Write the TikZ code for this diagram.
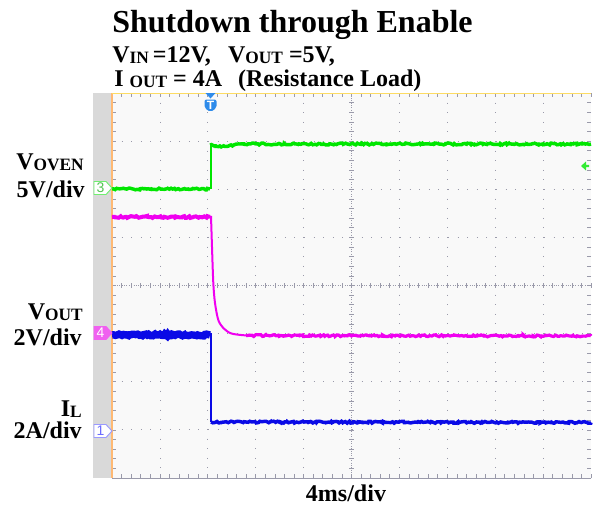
\documentclass[tikz,border=0pt]{standalone}
\usepackage{fontspec}
\setmainfont{Liberation Serif}
\newfontfamily\mksans{Liberation Sans}
\usetikzlibrary{decorations.pathmorphing}
\definecolor{cgreen}{HTML}{00E600}
\definecolor{cmag}{HTML}{F000F0}
\definecolor{cblue}{HTML}{0A0AE6}
\definecolor{plotbg}{HTML}{F9F9F9}
\definecolor{stripc}{HTML}{D9D9D9}
\definecolor{gridc}{HTML}{9A9AAA}
\definecolor{trig}{HTML}{2E8BEA}
\definecolor{mk3}{HTML}{70EE70}
\definecolor{mk4}{HTML}{F060F0}
\definecolor{mk1}{HTML}{9A9AFF}
\newcommand\lowcaps[1]{{\fontsize{13}{13}\selectfont\raisebox{-0.8pt}{#1}}}
\begin{document}
\begin{tikzpicture}[x=0.75pt,y=-0.75pt,
  lbl/.style={font=\bfseries\fontsize{18}{18}\selectfont, inner sep=0pt, anchor=base east},
  hdr/.style={font=\bfseries\fontsize{18}{18}\selectfont, inner sep=0pt, anchor=base west},
  noisy/.style={decorate,decoration={random steps,segment length=1.2pt,amplitude=0.7pt}},
  gdot/.style={gridc, line width=0.6pt, dash pattern=on 0.6pt off 6.6pt},
  cdot/.style={gridc, line width=0.6pt, dash pattern=on 0.6pt off 1.2pt},
  tickm/.style={gridc, line width=0.5pt},
  mknum/.style={font=\mksans\fontsize{10.5}{10.5}\selectfont, inner sep=0pt}
]
\pgfmathsetseed{7}
\useasboundingbox[fill=white] (0,0) rectangle (593,507);

% strip and plot background
\fill[stripc] (93,93) rectangle (112,478);
\fill[plotbg] (112,93) rectangle (591,478);

% grid
\foreach \k in {1,2,3,4,6,7,8,9} \draw[gdot] ({112+47.9*\k},93) -- ({112+47.9*\k},478);
\foreach \k in {1,2,3,5,6,7} \draw[gdot] (112,{93+48.125*\k}) -- (591,{93+48.125*\k});
\draw[cdot] (351.5,93) -- (351.5,478);
\draw[cdot] (112,285.5) -- (591,285.5);
\foreach \i in {0,...,50} {
  \pgfmathsetmacro\xx{112+9.58*\i}
  \draw[tickm] (\xx,93) -- (\xx,97);
  \draw[tickm] (\xx,478) -- (\xx,474);
  \draw[tickm] (\xx,283) -- (\xx,288);
}
\foreach \j in {0,...,40} {
  \pgfmathsetmacro\yy{93+9.625*\j}
  \draw[tickm] (112,\yy) -- (116,\yy);
  \draw[tickm] (591,\yy) -- (587,\yy);
  \draw[tickm] (349,\yy) -- (354,\yy);
}
\draw[gridc, line width=0.6pt] (112,478) -- (591,478);
\draw[orange!55, line width=0.8pt] (112,93) -- (112,478);
\draw[yellow!60!orange!60, line width=0.6pt] (112,93) -- (591,93);

% blue trace
\draw[cblue, line width=5.5pt, noisy] (112,335) -- (210,335);
\draw[cblue, line width=1.2pt] (211,333) -- (211,422);
\draw[cblue, line width=2.6pt, noisy] (211,422) -- (591,422.5);

% magenta trace
\draw[cmag, line width=3pt, noisy] (112,217) -- (210,217);
\draw[cmag, line width=1.5pt] plot[smooth] coordinates {(211,216) (212,247) (213.3,283) (215,303) (218.3,320) (223.3,328) (230,333) (236.7,334.5) (246.7,335.5)};
\draw[cmag, line width=2.4pt, noisy] (246,335.5) -- (591,336);

% green trace
\draw[cgreen, line width=2.6pt, noisy] (112,189) -- (210,189);
\draw[cgreen, line width=1.5pt] (210.5,189) -- (210.5,144);
\draw[cgreen, line width=2.6pt, noisy] (210,145) -- (225,146.5) -- (240,144) -- (591,144);

% right green arrow
\fill[cgreen!80] (581,166) -- (586,161.5) -- (586,164.8) -- (589,164.8) -- (589,167.2) -- (586,167.2) -- (586,170.5) -- cycle;

% trigger marker
\fill[trig] (205.5,93) -- (215.5,93) -- (210.5,98.5) -- cycle;
\fill[trig, rounded corners=1.5pt] (204.5,99.5) -- (216.5,99.5) -- (216.5,108) -- (210.5,112) -- (204.5,108) -- cycle;
\node[font=\mksans\bfseries\fontsize{9}{9}\selectfont, text=white, inner sep=0pt] (trigT) at (210.5,105.5) {T};

% channel markers
\draw[mk3, fill=white, line width=0.7pt] (94,181.5) -- (106,181.5) -- (112,188) -- (106,194.5) -- (94,194.5) -- cycle;
\node[mknum, text=mk3!80!black!90!green] (m3) at (100.5,188) {3};
\draw[mk4, fill=mk4, line width=0.7pt] (94,326.5) -- (106,326.5) -- (112,333) -- (106,339.5) -- (94,339.5) -- cycle;
\node[mknum, text=white] (m4) at (100.5,333) {4};
\draw[mk1, fill=white, line width=0.7pt] (94,424.5) -- (106,424.5) -- (112,431) -- (106,437.5) -- (94,437.5) -- cycle;
\node[mknum, text=mk1!70!blue] (m1) at (100.5,431) {1};

% left labels
\node[lbl] (voven) at (84,169) {V\lowcaps{OVEN}};
\node[lbl] (d5) at (85,197) {5V/div};
\node[lbl] (vout) at (83,319) {V\lowcaps{OUT}};
\node[lbl] (d2v) at (82,345) {2V/div};
\node[lbl] (il) at (82,416) {I\lowcaps{L}};
\node[lbl] (d2a) at (82,438) {2A/div};
\node[font=\bfseries\fontsize{18}{18}\selectfont, inner sep=0pt, anchor=base] (tdiv) at (346,501) {4ms/div};

% header
\node[font=\bfseries\fontsize{24}{24}\selectfont, inner sep=0pt, anchor=base west] (title) at (112,32) {Shutdown through Enable};
\node[hdr] (line2) at (112,62) {V\lowcaps{IN}\,=12V,\hspace{13pt}V\lowcaps{OUT} =5V,};
\node[hdr] (line3) at (114,86) {I \lowcaps{OUT} = 4A\hspace{12pt}(Resistance Load)};
\end{tikzpicture}
\end{document}
